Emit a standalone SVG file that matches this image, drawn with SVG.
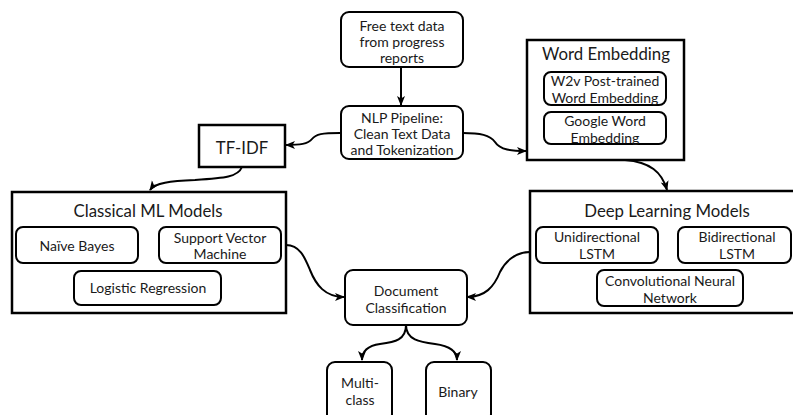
<svg xmlns="http://www.w3.org/2000/svg" width="793" height="415" viewBox="0 0 793 415">
<style>
.sq{fill:#fff;stroke:#000;stroke-width:2.5}
.rd{fill:#fff;stroke:#000;stroke-width:2}
text{font-family:Lato,"Open Sans","Liberation Sans",sans-serif;font-size:14px;fill:#1a1a1a;text-anchor:middle;dominant-baseline:central}
.t{font-size:16.8px}
.c{fill:none;stroke:#000;stroke-width:2}
</style>
<defs>
<marker id="ah" markerUnits="userSpaceOnUse" markerWidth="10" markerHeight="10" viewBox="0 0 10 10" refX="9" refY="5" orient="auto">
<path d="M0,1 L10,5 L0,9 L2.5,5 Z" fill="#000"/>
</marker>
</defs>
<g id="connectors">
<path class="c" d="M401,67 L401,105" marker-end="url(#ah)"/>
<path class="c" d="M340,133 C322,133 316,134 312,139 C308,144 300,145 286,145" marker-end="url(#ah)"/>
<path class="c" d="M463,133 C480,133 490,135 495,142 C500,150 512,151 526,151" marker-end="url(#ah)"/>
<path class="c" d="M242,167 C238,177 225,178 195,180 C170,181 155,183 150,190" marker-end="url(#ah)"/>
<path class="c" d="M625,160 C650,162 662,172 667,190" marker-end="url(#ah)"/>
<path class="c" d="M286,245 C300,245 305,258 310,270 C316,285 325,297 344,297" marker-end="url(#ah)"/>
<path class="c" d="M530,252 C515,252 505,262 500,272 C494,287 485,297 467,297" marker-end="url(#ah)"/>
<path class="c" d="M406,325 C406,340 395,342 380,344 C366,346 362,352 362,360" marker-end="url(#ah)"/>
<path class="c" d="M406,325 C406,340 420,342 435,344 C450,346 457,352 457,360" marker-end="url(#ah)"/>
</g>
<g id="free-text">
<rect class="rd" x="341" y="12" width="122" height="55" rx="8"/>
<text x="402" y="25">Free text data</text>
<text x="402" y="41">from progress</text>
<text x="402" y="57">reports</text>
</g>
<g id="nlp">
<rect class="rd" x="341" y="106" width="122" height="53" rx="8"/>
<text x="402" y="117">NLP Pipeline:</text>
<text x="402" y="133">Clean Text Data</text>
<text x="402" y="149">and Tokenization</text>
</g>
<g id="tfidf">
<rect class="sq" x="199" y="125" width="86" height="42"/>
<text class="t" x="242" y="147">TF-IDF</text>
</g>
<g id="word-embedding">
<rect class="sq" x="527" y="40" width="157" height="120"/>
<text class="t" x="606" y="53">Word Embedding</text>
<g id="w2v">
<rect class="rd" x="544" y="72" width="122" height="33" rx="7"/>
<text x="605" y="80">W2v Post-trained</text>
<text x="605" y="97">Word Embedding</text>
</g>
<g id="google">
<rect class="rd" x="544" y="112" width="122" height="32" rx="7"/>
<text x="605" y="120">Google Word</text>
<text x="605" y="137">Embedding</text>
</g>
</g>
<g id="classical-ml">
<rect class="sq" x="12" y="192" width="274" height="121"/>
<text class="t" x="148" y="210">Classical ML Models</text>
<g id="naive-bayes">
<rect class="rd" x="16" y="227" width="122" height="36" rx="7"/>
<text x="77" y="245">Naïve Bayes</text>
</g>
<g id="svm">
<rect class="rd" x="159" y="227" width="122" height="36" rx="7"/>
<text x="220" y="237">Support Vector</text>
<text x="220" y="253">Machine</text>
</g>
<g id="logistic">
<rect class="rd" x="74" y="271" width="147" height="34" rx="7"/>
<text x="148" y="287">Logistic Regression</text>
</g>
</g>
<g id="deep-learning">
<rect class="sq" x="530" y="191" width="270" height="122"/>
<text class="t" x="667" y="210">Deep Learning Models</text>
<g id="uni-lstm">
<rect class="rd" x="536" y="227" width="122" height="36" rx="7"/>
<text x="597" y="236">Unidirectional</text>
<text x="597" y="253">LSTM</text>
</g>
<g id="bi-lstm">
<rect class="rd" x="678" y="227" width="113" height="36" rx="7"/>
<text x="737" y="236">Bidirectional</text>
<text x="737" y="253">LSTM</text>
</g>
<g id="cnn">
<rect class="rd" x="597" y="270" width="146" height="36" rx="7"/>
<text x="670" y="280">Convolutional Neural</text>
<text x="670" y="297">Network</text>
</g>
</g>
<g id="doc-class">
<rect class="rd" x="345" y="270" width="122" height="55" rx="8"/>
<text x="406" y="290">Document</text>
<text x="406" y="307">Classification</text>
</g>
<g id="multi-class">
<rect class="rd" x="327" y="362" width="65" height="60" rx="8"/>
<text x="360" y="382">Multi-</text>
<text x="360" y="399">class</text>
</g>
<g id="binary">
<rect class="rd" x="426" y="362" width="65" height="60" rx="8"/>
<text x="458" y="391">Binary</text>
</g>
</svg>
